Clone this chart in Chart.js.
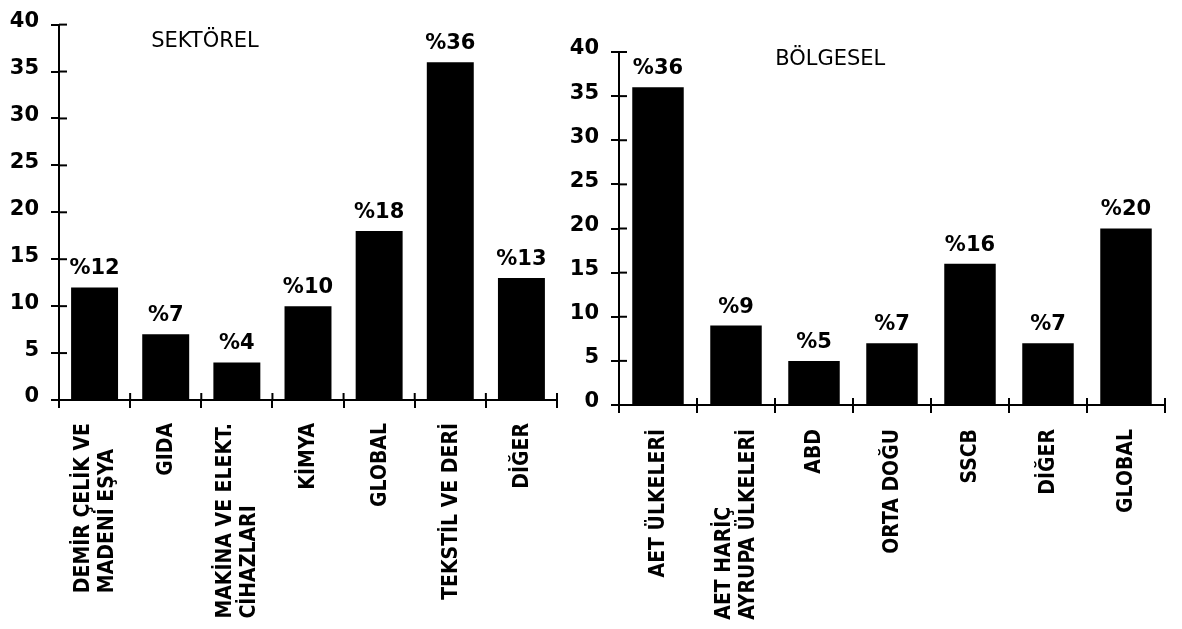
<!DOCTYPE html>
<html>
<head>
<meta charset="utf-8">
<script src="https://cdn.jsdelivr.net/npm/chart.js@4.4.1/dist/chart.umd.min.js"></script>
<style>
  html, body { margin: 0; padding: 0; background: #fff; width: 1182px; height: 629px; overflow: hidden; }
  .box { position: absolute; top: 0; height: 629px; }
  #sek { left: 0; width: 575px; }
  #bol { left: 560px; width: 622px; }
</style>
</head>
<body>
<div class="box" id="sek"><canvas id="c1"></canvas></div>
<div class="box" id="bol"><canvas id="c2"></canvas></div>
<script>
// Sector breakdown (%)
const sectorLabels = [
  ['DEMİR ÇELİK VE', 'MADENİ EŞYA'],
  'GIDA',
  ['MAKİNA VE ELEKT.', 'CİHAZLARI'],
  'KİMYA',
  'GLOBAL',
  'TEKSTİL VE DERİ',
  'DİĞER'
];
const sectorValues = [12, 7, 4, 10, 18, 36, 13];

// Regional breakdown (%)
const regionLabels = [
  'AET ÜLKELERİ',
  ['AET HARİÇ', 'AYRUPA ÜLKELERİ'],
  'ABD',
  'ORTA DOĞU',
  'SSCB',
  'DİĞER',
  'GLOBAL'
];
const regionValues = [36, 9, 5, 7, 16, 7, 20];

// Shared value axis ticks
const yTicks = [0, 5, 10, 15, 20, 25, 30, 35, 40];

const SANS = "'DejaVu Sans', 'Liberation Sans', sans-serif";
const NARROW = "'DejaVu Sans Condensed', 'DejaVu Sans', sans-serif";
const CAT_FONT = 'bold 21px ' + NARROW;
const LINE_PITCH = 24;

// Draws the "%n" value labels, the inner halves of the tick marks,
// the vertical category labels (multi-line labels start-aligned) and the panel title
const decorations = {
  id: 'decorations',
  afterDatasetsDraw(chart, args, opts) {
    const ctx = chart.ctx;
    const xs = chart.scales.x, ys = chart.scales.y;
    const area = chart.chartArea;
    ctx.save();
    ctx.strokeStyle = '#000';
    ctx.lineWidth = 2;
    // inner tick stubs on the value axis
    ys.ticks.forEach(t => {
      const py = ys.getPixelForValue(t.value);
      ctx.beginPath();
      ctx.moveTo(area.left, py);
      ctx.lineTo(area.left + 8, py);
      ctx.stroke();
    });
    // inner tick stubs on the category axis (category boundaries)
    const n = chart.data.labels.length;
    for (let i = 0; i <= n; i++) {
      const px = xs.getPixelForValue(i - 0.5);
      ctx.beginPath();
      ctx.moveTo(px, area.bottom);
      ctx.lineTo(px, area.bottom - 7);
      ctx.stroke();
    }
    // value labels
    ctx.fillStyle = '#000';
    ctx.font = 'bold 21px ' + SANS;
    ctx.textAlign = 'center';
    ctx.textBaseline = 'bottom';
    const meta = chart.getDatasetMeta(0);
    const values = chart.data.datasets[0].data;
    meta.data.forEach((bar, i) => {
      ctx.fillText('%' + values[i], bar.x, bar.y - 8);
    });
    // category labels, reading bottom to top
    ctx.font = CAT_FONT;
    ctx.textAlign = 'left';
    ctx.textBaseline = 'middle';
    chart.data.labels.forEach((lab, i) => {
      const lines = Array.isArray(lab) ? lab : [lab];
      const maxW = Math.max(...lines.map(s => ctx.measureText(s).width));
      const cx = xs.getPixelForValue(i);
      const startY = area.bottom + opts.labelGap + maxW;
      lines.forEach((s, j) => {
        const lx = cx + (j - (lines.length - 1) / 2) * LINE_PITCH + 1;
        ctx.save();
        ctx.translate(lx, startY);
        ctx.rotate(-Math.PI / 2);
        ctx.fillText(s, 0, 0);
        ctx.restore();
      });
    });
    // panel title
    ctx.font = '21px ' + SANS;
    ctx.textAlign = 'left';
    ctx.textBaseline = 'middle';
    ctx.fillText(opts.text, area.left + opts.fx * (area.right - area.left), ys.getPixelForValue(opts.vy));
    ctx.restore();
  }
};

function makeChart(id, labels, values, g) {
  return new Chart(document.getElementById(id), {
    type: 'bar',
    data: {
      labels: labels,
      datasets: [{
        data: values,
        backgroundColor: '#000',
        borderWidth: 0,
        categoryPercentage: 1,
        barPercentage: 0.66
      }]
    },
    options: {
      responsive: true,
      maintainAspectRatio: false,
      animation: false,
      events: [],
      layout: { padding: { left: 0, right: g.padRight, top: g.padTop, bottom: 0 } },
      plugins: {
        legend: { display: false },
        tooltip: { enabled: false },
        title: { display: false },
        decorations: { text: g.title, fx: g.titleFx, vy: g.titleVy, labelGap: g.labelGap }
      },
      scales: {
        x: {
          afterFit: s => { s.height = g.xAxisHeight; },
          border: { display: true, color: '#000', width: 2 },
          grid: { offset: true, drawOnChartArea: false, drawTicks: true, tickLength: 8, color: '#000', lineWidth: 2 },
          ticks: { display: false, autoSkip: false }
        },
        y: {
          min: 0,
          max: 40,
          afterFit: s => { s.width = g.yAxisWidth; },
          afterBuildTicks: s => { s.ticks = yTicks.map(v => ({ value: v })); },
          border: { display: true, color: '#000', width: 2 },
          grid: { drawOnChartArea: false, drawTicks: true, tickLength: 8, color: '#000', lineWidth: 2 },
          ticks: {
            color: '#000',
            padding: 12,
            labelOffset: -3,
            font: { family: SANS, size: 21, weight: 'bold' }
          }
        }
      }
    },
    plugins: [decorations]
  });
}

makeChart('c1', sectorLabels, sectorValues, {
  title: 'SEKTÖREL', titleFx: 0.185, titleVy: 38.2, labelGap: 23,
  padRight: 18, padTop: 21, yAxisWidth: 59, xAxisHeight: 229
});

makeChart('c2', regionLabels, regionValues, {
  title: 'BÖLGESEL', titleFx: 0.286, titleVy: 39.1, labelGap: 24,
  padRight: 17, padTop: 52, yAxisWidth: 59, xAxisHeight: 224
});
</script>
</body>
</html>
